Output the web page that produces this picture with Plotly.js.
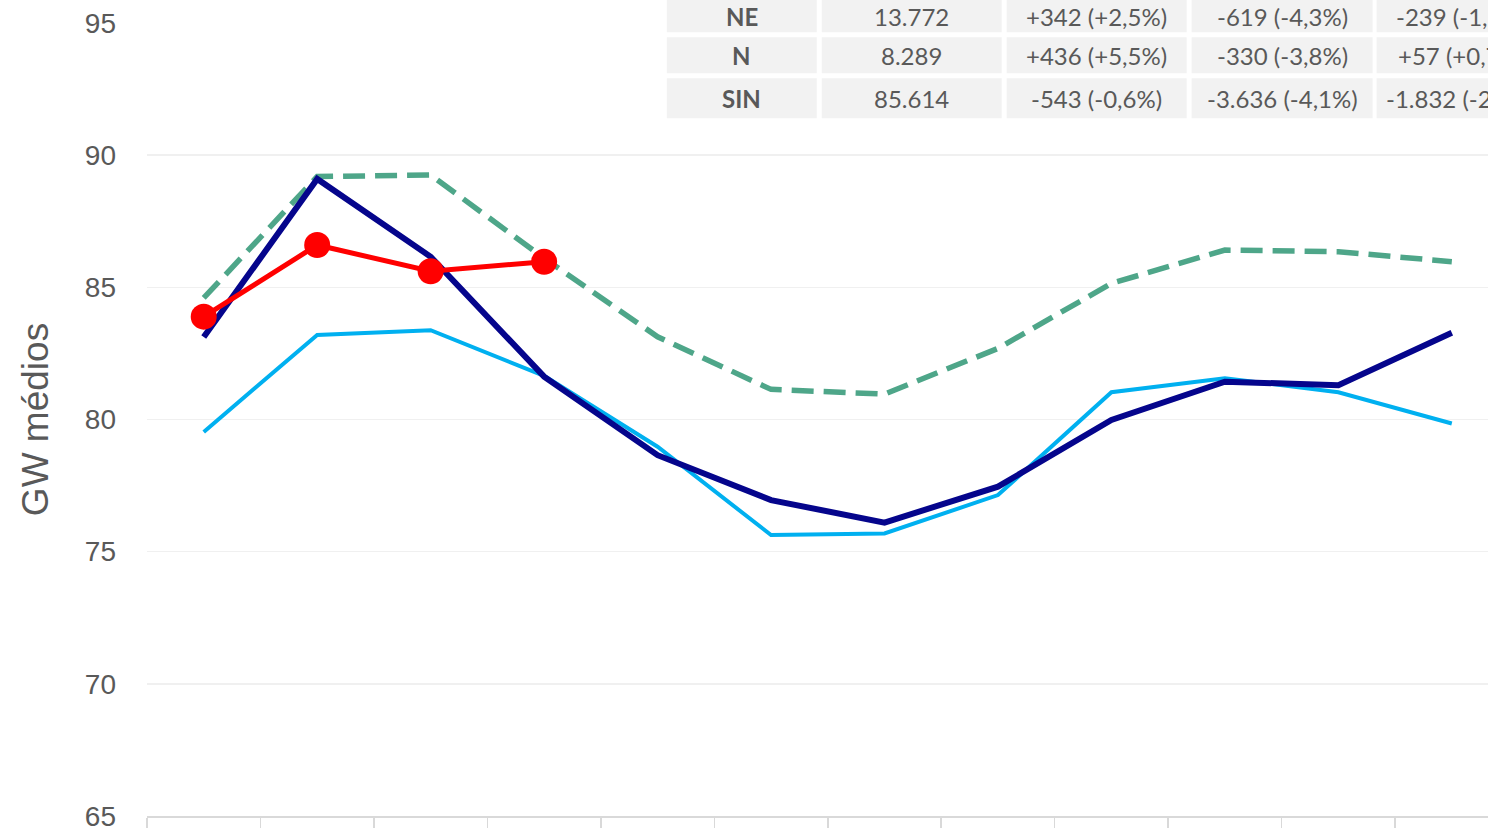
<!DOCTYPE html>
<html>
<head>
<meta charset="utf-8">
<script src="https://cdn.plot.ly/plotly-3.0.1.min.js"></script>
<style>
  html, body { margin: 0; padding: 0; background: #ffffff; overflow: hidden; width: 1488px; height: 828px; }
  #chart { width: 1640px; height: 860px; }
</style>
</head>
<body>
<div id="chart"></div>
<script>
// ---- data ----
const months = ['jan', 'fev', 'mar', 'abr', 'mai', 'jun', 'jul', 'ago', 'set', 'out', 'nov', 'dez'];
const seriesLightBlue = [79.53, 83.20, 83.38, 81.65, 78.97, 75.63, 75.69, 77.14, 81.03, 81.56, 81.03, 79.85];
const seriesGreen     = [84.60, 89.19, 89.25, 86.10, 83.13, 81.14, 80.96, 82.69, 85.15, 86.41, 86.35, 85.97];
const seriesNavy      = [83.12, 89.10, 86.16, 81.62, 78.65, 76.95, 76.10, 77.46, 79.98, 81.43, 81.30, 83.28];
const seriesRed       = [83.89, 86.60, 85.61, 85.97, null, null, null, null, null, null, null, null];

const tableRegions = ['NE', 'N', 'SIN'];
const tableValue   = ['13.772', '8.289', '85.614'];
const tableDiff1   = ['+342 (+2,5%)', '+436 (+5,5%)', '-543 (-0,6%)'];
const tableDiff2   = ['-619 (-4,3%)', '-330 (-3,8%)', '-3.636 (-4,1%)'];
const tableDiff3   = ['-239 (-1,7%)', '+57 (+0,7%)', '-1.832 (-2,1%)'];

const yTicks = [65, 70, 75, 80, 85, 90, 95];

// ---- layout geometry (pixels) ----
const W = 1640, H = 860;
const plotLeft = 147, plotWidth = 1475.5, plotTop = 23, plotHeight = 793;
const px2x = px => (px - plotLeft) / plotWidth;
const px2y = py => 1 - (py - plotTop) / plotHeight;

// table cell geometry
const colLeft  = [667, 822, 1007, 1192, 1377];
const colRight = [817, 1002, 1187, 1373, 1562];
const colTextX = [742, 912, 1097, 1282.5, 1462];
const rowTop    = [-4, 37.3, 78.3];
const rowBottom = [32.3, 73.3, 118.3];
const rowTextY  = [16.5, 56, 98];

// ---- traces ----
const lineTrace = (y, color, width, dash) => ({
  type: 'scatter', mode: 'lines', x: months, y: y,
  line: { color: color, width: width, dash: dash || 'solid' },
  hoverinfo: 'skip', showlegend: false
});

const traces = [
  lineTrace(seriesLightBlue, '#00b0f0', 4),
  lineTrace(seriesGreen, '#4ea689', 5.5, '22px,10px'),
  lineTrace(seriesNavy, '#05058c', 6),
  {
    type: 'scatter', mode: 'lines+markers', x: months, y: seriesRed,
    line: { color: '#ff0000', width: 5 },
    marker: { color: '#ff0000', size: 26 },
    hoverinfo: 'skip', showlegend: false
  }
];

// ---- table built from the arrays ----
const tableCols = [tableRegions.map(s => '<b>' + s + '</b>'), tableValue, tableDiff1, tableDiff2, tableDiff3];
const shapes = [];
const annotations = [];
tableCols.forEach((col, c) => {
  col.forEach((txt, r) => {
    shapes.push({
      type: 'rect', xref: 'paper', yref: 'paper', layer: 'above',
      x0: px2x(colLeft[c]), x1: px2x(colRight[c]),
      y0: px2y(rowBottom[r]), y1: px2y(rowTop[r]),
      fillcolor: '#f2f2f2', line: { width: 0 }
    });
    annotations.push({
      xref: 'paper', yref: 'paper',
      x: px2x(colTextX[c]), y: px2y(rowTextY[r]),
      xanchor: 'center', yanchor: 'middle',
      text: txt, showarrow: false,
      font: { family: 'Lato, Liberation Sans, sans-serif', size: 24, color: '#595959' }
    });
  });
});

const layout = {
  width: W, height: H,
  margin: { l: plotLeft, r: W - plotLeft - plotWidth, t: plotTop, b: H - plotTop - plotHeight, pad: 0 },
  paper_bgcolor: '#ffffff', plot_bgcolor: '#ffffff',
  showlegend: false,
  shapes: shapes,
  annotations: annotations,
  xaxis: {
    type: 'category',
    range: [-0.5, 12.5],
    showgrid: false,
    showticklabels: false,
    tickson: 'boundaries',
    ticks: 'outside', ticklen: 16, tickwidth: 1.5, tickcolor: '#d9d9d9',
    showline: true, linecolor: '#d9d9d9', linewidth: 1.5,
    zeroline: false, fixedrange: true
  },
  yaxis: {
    range: [65, 95],
    tickvals: yTicks,
    ticktext: yTicks.map(String),
    showgrid: true, gridcolor: '#f0f0f0', gridwidth: 1.5,
    zeroline: false, showline: false,
    ticks: '', ticklabelstandoff: 30,
    tickfont: { family: 'Liberation Sans, Arial, sans-serif', size: 28, color: '#595959' },
    title: { text: 'GW médios', standoff: 24, font: { family: 'Liberation Sans, Arial, sans-serif', size: 37, color: '#595959' } },
    fixedrange: true
  }
};

Plotly.newPlot('chart', traces, layout, { displayModeBar: false, staticPlot: true });
</script>
</body>
</html>
